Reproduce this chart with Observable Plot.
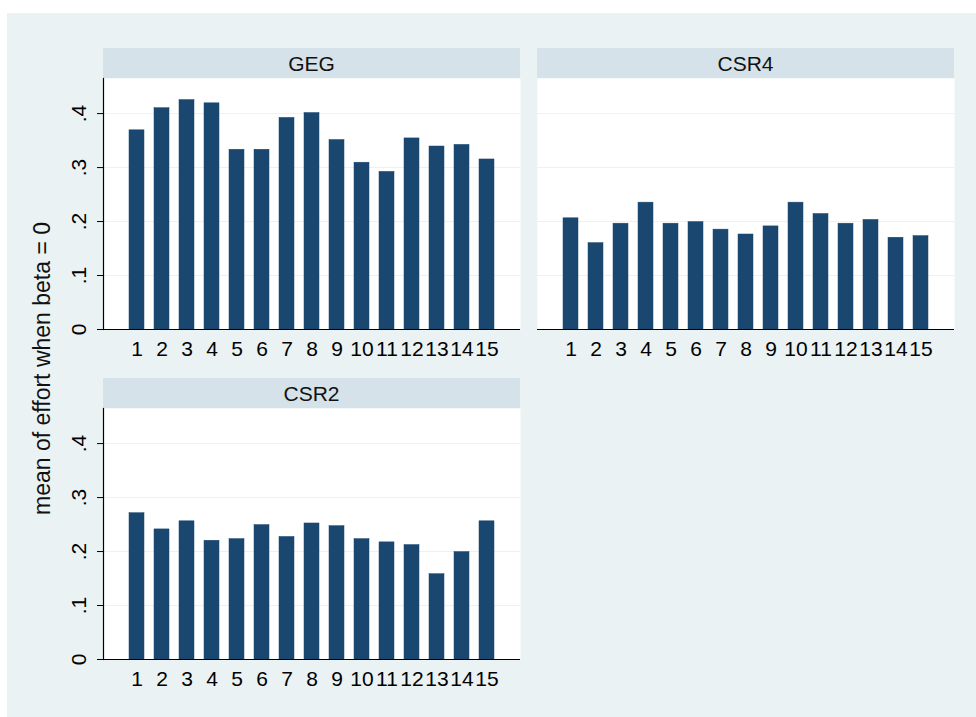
<!DOCTYPE html>
<html>
<head>
<meta charset="utf-8">
<script src="https://cdn.jsdelivr.net/npm/d3@7"></script>
<script src="https://cdn.jsdelivr.net/npm/@observablehq/plot@0.6"></script>
<style>
  html, body { margin: 0; padding: 0; background: #ffffff; }
  #wrap { position: relative; width: 976px; height: 717px; overflow: hidden; font-family: "Liberation Sans", Arial, sans-serif; color: #000; }
  #bg { position: absolute; left: 7px; top: 13px; width: 969px; height: 704px; background: #eaf2f3; }
  .strip { position: absolute; height: 30px; background: #d6e2e9; font-size: 21px; line-height: 31px; text-align: center; color: #111; }
  .panel { position: absolute; }
  .panel svg { overflow: visible; }
  #ytitle { position: absolute; font-size: 23px; color: #111; white-space: nowrap; transform-origin: 0 0; }
</style>
</head>
<body>
<div id="wrap">
  <div id="bg"></div>
</div>
<script>
// ---- data ----
const periods = ["1","2","3","4","5","6","7","8","9","10","11","12","13","14","15"];
const panelNames = ["GEG", "CSR4", "CSR2"];
const gegValues  = [0.369, 0.410, 0.425, 0.419, 0.333, 0.333, 0.392, 0.401, 0.351, 0.309, 0.292, 0.354, 0.339, 0.342, 0.315];
const csr4Values = [0.206, 0.160, 0.196, 0.235, 0.196, 0.199, 0.185, 0.176, 0.191, 0.235, 0.214, 0.196, 0.203, 0.170, 0.173];
const csr2Values = [0.271, 0.241, 0.256, 0.220, 0.223, 0.249, 0.227, 0.252, 0.247, 0.223, 0.217, 0.212, 0.158, 0.199, 0.256];
const yTicks = [0, 0.1, 0.2, 0.3, 0.4];
const yTickLabels = ["0", ".1", ".2", ".3", ".4"];
const gridTicks = [0.1, 0.2, 0.3, 0.4];
const yTitle = "mean of effort when beta = 0";

// ---- layout ----
const wrap = document.getElementById("wrap");
const PLOT_W = 417, PLOT_H = 251, STRIP_H = 30, ML = 43, MB = 40;

function panel(name, values, left, top, showY) {
  const strip = document.createElement("div");
  strip.className = "strip";
  strip.style.left = left + "px";
  strip.style.top = top + "px";
  strip.style.width = PLOT_W + "px";
  strip.textContent = name;
  wrap.appendChild(strip);

  const data = periods.map((p, i) => ({period: p, value: values[i]}));
  const marks = [
    Plot.frame({fill: "white", stroke: "none"}),
    Plot.ruleY(gridTicks, {stroke: "#eaf2f3", strokeWidth: 1}),
    Plot.barY(data, {x: "period", y: "value", fill: "#1a476f", stroke: "#1a476f", strokeWidth: 0.5}),
    Plot.ruleY([0], {stroke: "#000", strokeWidth: 1.2}),
    Plot.axisX({tickSize: 0, tickPadding: 12, fontSize: 21, label: null, tickFormat: d => periods[periods.indexOf(d)]})
  ];
  if (showY) {
    marks.push(
      Plot.frame({anchor: "left", stroke: "#000", strokeWidth: 1.2}),
      Plot.axisY({ticks: yTicks, tickSize: 6, tickRotate: -90, tickPadding: 12, fontSize: 21, label: null,
                  tickFormat: d => yTickLabels[yTicks.indexOf(d)]})
    );
  }
  const chart = Plot.plot({
    width: ML + PLOT_W,
    height: PLOT_H + MB,
    marginLeft: ML, marginRight: 0, marginTop: 0, marginBottom: MB,
    style: {background: "transparent", fontFamily: "'Liberation Sans', Arial, sans-serif", fontSize: "21px", color: "#000", overflow: "visible"},
    x: {type: "band", domain: periods, paddingInner: 0.41, paddingOuter: 0.95, axis: null, label: null},
    y: {domain: [0, 0.465], axis: null, label: null},
    marks
  });
  const holder = document.createElement("div");
  holder.className = "panel";
  holder.style.left = (left - ML) + "px";
  holder.style.top = (top + STRIP_H) + "px";
  holder.appendChild(chart);
  wrap.appendChild(holder);
}

panel(panelNames[0], gegValues, 103, 48, true);
panel(panelNames[1], csr4Values, 537, 48, false);
panel(panelNames[2], csr2Values, 103, 378, true);

// y title
const yt = document.createElement("div");
yt.id = "ytitle";
yt.textContent = yTitle;
wrap.appendChild(yt);
const w = yt.offsetWidth, h = yt.offsetHeight;
// center at (42, 368), rotated -90
yt.style.left = (42 - h / 2) + "px";
yt.style.top = (368 + w / 2) + "px";
yt.style.transform = "rotate(-90deg)";
</script>
</body>
</html>
